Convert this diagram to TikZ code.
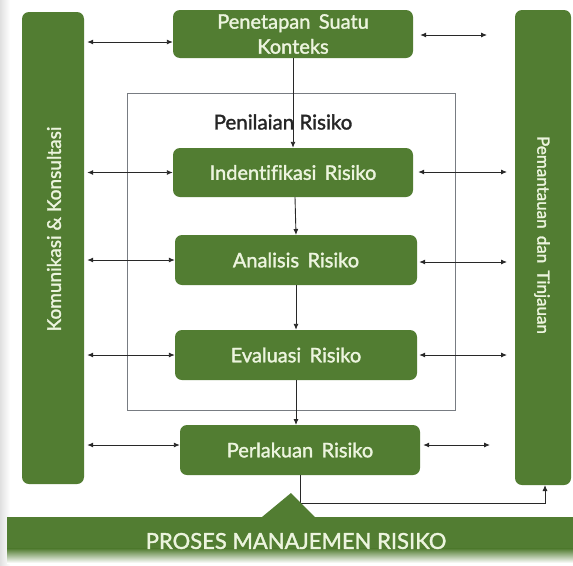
\documentclass[tikz,border=0pt]{standalone}
\usepackage{fontspec}
\setmainfont{Lato}[Ligatures=NoCommon]
\newfontfamily\boxfont{Lato}[Ligatures=NoCommon, FakeBold=1.6]
\usetikzlibrary{arrows.meta,calc}
\definecolor{gbox}{RGB}{82,125,50}
\definecolor{gtext}{RGB}{236,244,222}
\definecolor{lineg}{RGB}{40,40,40}
\definecolor{frameg}{RGB}{120,124,130}
\tikzset{
  gbox/.style={fill=gbox, draw=none, rounded corners=7pt, text=gtext, font=\boxfont\fontsize{20}{25}\selectfont, align=center, inner sep=0pt},
  dbl/.style={draw=lineg, line width=0.9pt, {Latex[length=6pt,width=5pt]}-{Latex[length=6pt,width=5pt]}},
  one/.style={draw=lineg, line width=0.9pt, -{Latex[length=6pt,width=5pt]}},
}
\begin{document}
\begin{tikzpicture}[x=1pt,y=-1pt]
\useasboundingbox (0,0) rectangle (573,565);
\fill[white] (0,0) rectangle (573,565);
\shade[left color=black!12, right color=white] (0,0) rectangle (10,565);
% bars
\node[gbox, minimum width=62pt, minimum height=472pt] (L) at (53,248) {};
\node[gbox, minimum width=56pt, minimum height=475pt] (R) at (543,247.5) {};
\node[text=gtext, font=\boxfont\fontsize{19}{22}\selectfont, rotate=90] (Ltxt) at (54,229) {Komunikasi \& Konsultasi};
\node[text=gtext, font=\boxfont\fontsize{17}{22}\selectfont, rotate=-90] (Rtxt) at (542,235) {Pemantauan \,dan \,Tinjauan};
% inner frame
\draw[frameg, line width=0.9pt] (127,93) rectangle (455,410);
\node[font=\boxfont\fontsize{20.5}{24}\selectfont, text=black!85] (PR) at (283,122) {Penilaian Risiko};
% boxes
\node[gbox, minimum width=240pt, minimum height=48pt] (top) at (293,34) {Penetapan \,Suatu\\Konteks};
\node[gbox, minimum width=240pt, minimum height=49pt] (ide) at (293,172.5) {Indentifikasi \,Risiko};
\node[gbox, minimum width=242pt, minimum height=50pt] (ana) at (296,260) {Analisis \,Risiko};
\node[gbox, minimum width=242pt, minimum height=50pt] (eva) at (296,355) {Evaluasi \,Risiko};
\node[gbox, minimum width=240pt, minimum height=50pt] (per) at (300,450) {Perlakuan \,Risiko};
% left arrows
\draw[dbl] ([xshift=3pt]L.east |- 0,42) -- (top.west |- 0,42);
\draw[dbl] ([xshift=3pt]L.east |- ide.west) -- (ide.west);
\draw[dbl] ([xshift=3pt]L.east |- ana.west) -- (ana.west);
\draw[dbl] ([xshift=3pt]L.east |- eva.west) -- (eva.west);
\draw[dbl] ([xshift=3pt]L.east |- 0,445) -- (per.west |- 0,445);
% right arrows
\coordinate (r1) at (487,35);
\coordinate (r2) at (507,172);
\coordinate (r3) at (507,262);
\coordinate (r4) at (507,355);
\coordinate (r5) at (490,445);
\draw[dbl] ([xshift=7pt]top.east |- r1) -- (r1);
\draw[dbl] ([xshift=5pt]ide.east |- r2) -- (r2);
\draw[dbl] ([xshift=2pt]ana.east |- r3) -- (r3);
\draw[dbl] ([xshift=2pt]eva.east |- r4) -- (r4);
\draw[dbl] ([xshift=3pt]per.east |- r5) -- (r5);
% vertical flow
\draw[one] (293,58) -- (ide.north);
\draw[one] (295,197) -- (296,235);
\draw[one] (ana.south) -- (eva.north);
\draw[one] (eva.south) -- (296,425);
\coordinate (bend) at (300,503);
\draw[one] (300,475) -- (bend) -| (545,485);
% banner
\fill[fill=gbox] (7,517) -- (262,517) -- (291,493) -- (315,517) -- (573,517) -- (573,549) -- (7,549) -- cycle;
\shade[top color=gbox, bottom color=white] (7,548.5) rectangle (573,563);
\node[text=gtext, font=\boxfont\fontsize{22}{26}\selectfont] (ban) at (296,541) {PROSES MANAJEMEN RISIKO};
\end{tikzpicture}
\end{document}
